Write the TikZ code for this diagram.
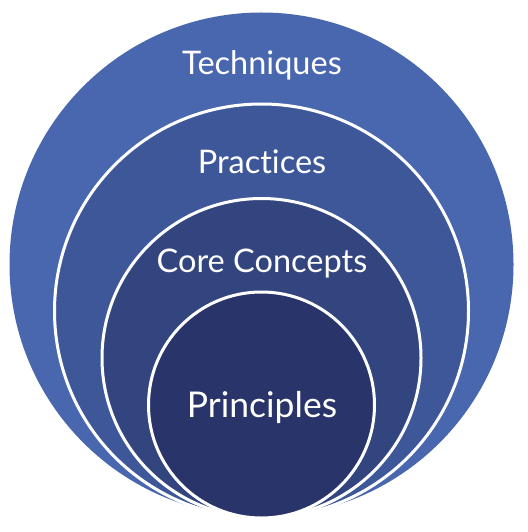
\documentclass[tikz,border=0pt]{standalone}
\usepackage{fontspec}
\setmainfont{Lato}[Ligatures={NoCommon,NoContextual}]
\definecolor{c1}{HTML}{4967AF}
\definecolor{c2}{HTML}{3D5799}
\definecolor{c3}{HTML}{33457E}
\definecolor{c4}{HTML}{29356A}
\begin{document}
\begin{tikzpicture}[x=1pt,y=-1pt,
  ring/.style={circle,draw=white,line width=3pt,inner sep=0pt},
  lbl/.style={text=white,font=\fontsize{32.5}{32.5}\selectfont,anchor=base}]
\useasboundingbox (0,0) rectangle (527,532);
\node[ring,fill=c1,draw=none,minimum size=504pt] (outer) at (261.5,264.5) {};
\node[ring,fill=c2,minimum size=414pt] (prac) at (261.5,311) {};
\node[ring,fill=c3,minimum size=319pt] (core) at (261.5,358) {};
\node[ring,fill=c4,minimum size=226pt] (prin) at (261.5,405) {};
\node[lbl] (t1) at (262,75) {Techniques};
\node[lbl] (t2) at (262,173) {Practices};
\node[lbl] (t3) at (262,272) {Core Concepts};
\node[lbl,font=\fontsize{35.5}{35.5}\selectfont] (t4) at (262,417) {Principles};
\end{tikzpicture}
\end{document}
